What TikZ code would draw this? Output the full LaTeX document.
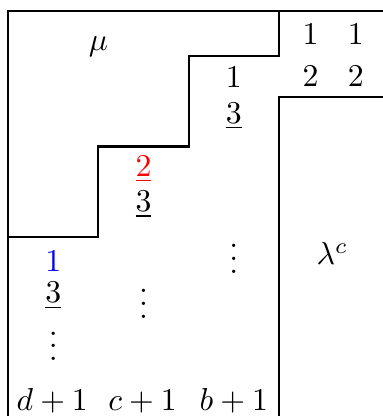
\documentclass[tikz,border=0pt]{standalone}
\usepackage{amsmath}
\usetikzlibrary{positioning}
\definecolor{markRed}{HTML}{FF0000}
\definecolor{markBlue}{HTML}{0000FF}
\tikzset{
    wall/.style={draw=black,line width=0.7pt,line join=miter},
    entry/.style={anchor=base,inner sep=0pt,font=\normalsize},
    dotsentry/.style={anchor=base,inner sep=0pt,font=\normalsize}
}

\begin{document}
\begin{tikzpicture}
            \useasboundingbox (-0.089,0.122) rectangle (4.140,-4.483);
            % outer frame and the skew shape
            \draw[wall] (4.3,0) -- (0,0) -- (0,-4.6);
            \draw[wall] (3,0) -- (3,-0.5) -- (2,-0.5) -- (2,-1.5)
                -- (1,-1.5) -- (1,-2.5) -- (0,-2.5);
            \draw[wall] (4.3,-0.95) -- (3,-0.95) -- (3,-4.6);
            % shapes
            \node[entry] (mu) at (1.0,-0.44) {$\mu$};
            \node[entry] (lamc) at (3.59,-2.81) {$\lambda^c$};
            % first rows of lambda
            \node[entry] (r1a) at (3.35,-0.365) {$1$};
            \node[entry] (r1b) at (3.85,-0.365) {$1$};
            \node[entry] (r2a) at (3.35,-0.84) {$2$};
            \node[entry] (r2b) at (3.85,-0.84) {$2$};
            % column entries
            \node[entry] (c3top) at (2.5,-0.85) {$1$};
            \node[entry] (c3low) at (2.5,-1.24) {$\underline{3}$};
            \node[dotsentry] (c3dots) at (2.5,-2.90) {\smash{$\vdots$}};
            \node[entry] (c2top) at (1.5,-1.83) {\textcolor{markRed}{$\underline{2}$}};
            \node[entry] (c2low) at (1.5,-2.22) {$\underline{3}$};
            \node[dotsentry] (c2dots) at (1.5,-3.40) {\smash{$\vdots$}};
            \node[entry] (c1top) at (0.5,-2.88) {\textcolor{markBlue}{$1$}};
            \node[entry] (c1low) at (0.5,-3.23) {$\underline{3}$};
            \node[dotsentry] (c1dots) at (0.5,-3.87) {\smash{$\vdots$}};
            % bottom row
            \node[entry] (c1end) at (0.49,-4.42) {$d+1$};
            \node[entry] (c2end) at (1.49,-4.42) {$c+1$};
            \node[entry] (c3end) at (2.5,-4.42) {$b+1$};
        \end{tikzpicture}
\end{document}
